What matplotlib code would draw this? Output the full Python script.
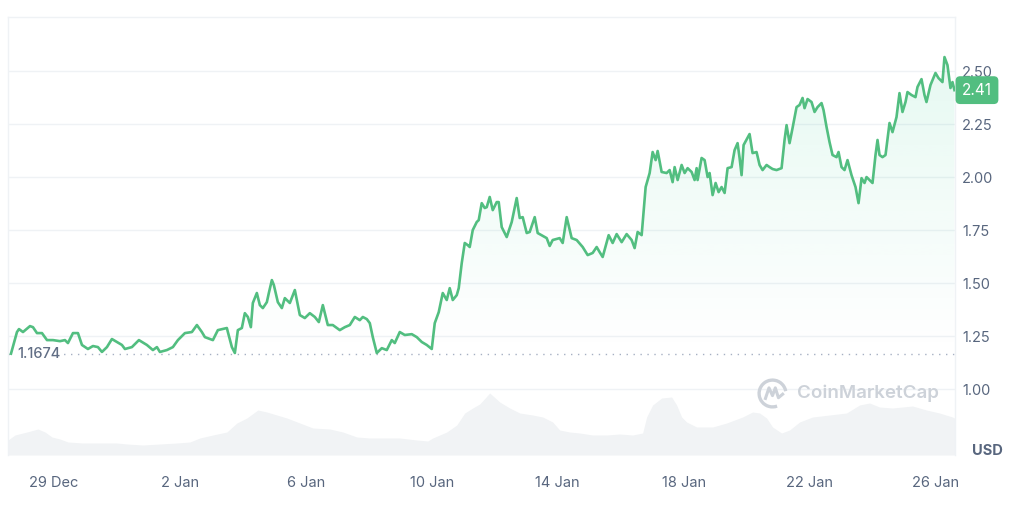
import numpy as np
import matplotlib
matplotlib.use("Agg")
import matplotlib.pyplot as plt
import matplotlib.transforms as mtransforms
from matplotlib.patches import Arc

plt.rcParams["font.family"] = ["Inter", "DejaVu Sans"]

# price: days since 29 Dec, USD
price_day = [
    -1.365, -1.175, -1.111, -0.984, -0.762, -0.667, -0.540, -0.381, -0.222, -0.032,
    0.190, 0.349, 0.444, 0.603, 0.762, 0.889, 1.079, 1.238, 1.397, 1.524,
    1.683, 1.841, 2.000, 2.159, 2.254, 2.476, 2.698, 2.952, 3.143, 3.270,
    3.365, 3.587, 3.778, 3.937, 4.159, 4.381, 4.540, 4.698, 4.794, 5.048,
    5.206, 5.492, 5.524, 5.651, 5.746, 5.841, 5.968, 6.063, 6.159, 6.254,
    6.317, 6.444, 6.540, 6.635, 6.762, 6.825, 6.921, 6.984, 7.111, 7.238,
    7.333, 7.492, 7.651, 7.810, 7.968, 8.127, 8.286, 8.413, 8.540, 8.698,
    8.857, 9.079, 9.238, 9.397, 9.556, 9.714, 9.810, 9.937, 10.032, 10.127,
    10.254, 10.413, 10.571, 10.730, 10.825, 10.984, 11.143, 11.365, 11.524, 11.683,
    11.841, 12.000, 12.095, 12.222, 12.349, 12.476, 12.571, 12.667, 12.794, 12.857,
    12.952, 13.048, 13.143, 13.206, 13.302, 13.429, 13.492, 13.587, 13.683, 13.746,
    13.841, 13.937, 14.063, 14.127, 14.222, 14.381, 14.540, 14.698, 14.794, 14.889,
    15.016, 15.111, 15.270, 15.365, 15.651, 15.746, 15.841, 16.063, 16.159, 16.286,
    16.444, 16.603, 16.794, 16.952, 17.111, 17.238, 17.333, 17.429, 17.619, 17.746,
    17.873, 18.032, 18.190, 18.349, 18.444, 18.540, 18.667, 18.794, 18.921, 19.016,
    19.111, 19.175, 19.302, 19.460, 19.556, 19.651, 19.714, 19.810, 19.937, 20.032,
    20.127, 20.254, 20.349, 20.413, 20.444, 20.571, 20.667, 20.762, 20.825, 20.921,
    21.016, 21.111, 21.206, 21.302, 21.397, 21.524, 21.619, 21.714, 21.778, 21.841,
    21.905, 22.095, 22.190, 22.317, 22.413, 22.508, 22.635, 22.730, 22.825, 22.952,
    23.111, 23.206, 23.270, 23.365, 23.460, 23.587, 23.683, 23.778, 23.841, 23.937,
    24.063, 24.159, 24.254, 24.381, 24.444, 24.540, 24.635, 24.730, 24.857, 24.921,
    25.016, 25.111, 25.206, 25.333, 25.460, 25.556, 25.651, 25.746, 25.810, 25.905,
    26.000, 26.095, 26.159, 26.222, 26.317, 26.413, 26.540, 26.635, 26.762, 26.857,
    26.952, 27.048, 27.111, 27.238, 27.365, 27.429, 27.556, 27.651, 27.714, 27.841,
    28.000, 28.095, 28.222, 28.286, 28.381, 28.476, 28.540, 28.603,
]
price = [
    1.167, 1.269, 1.283, 1.269, 1.297, 1.292, 1.264, 1.264, 1.231, 1.231,
    1.226, 1.231, 1.217, 1.264, 1.264, 1.208, 1.189, 1.203, 1.198, 1.175,
    1.198, 1.236, 1.222, 1.208, 1.189, 1.198, 1.231, 1.208, 1.184, 1.198,
    1.175, 1.184, 1.198, 1.231, 1.264, 1.269, 1.302, 1.269, 1.245, 1.231,
    1.278, 1.288, 1.269, 1.198, 1.170, 1.278, 1.288, 1.358, 1.340, 1.292,
    1.406, 1.453, 1.396, 1.382, 1.410, 1.453, 1.514, 1.491, 1.410, 1.382,
    1.429, 1.406, 1.467, 1.349, 1.335, 1.358, 1.340, 1.316, 1.396, 1.302,
    1.302, 1.278, 1.292, 1.302, 1.340, 1.325, 1.340, 1.330, 1.311, 1.245,
    1.170, 1.193, 1.184, 1.231, 1.217, 1.269, 1.255, 1.259, 1.245, 1.222,
    1.208, 1.189, 1.311, 1.363, 1.453, 1.420, 1.476, 1.420, 1.443, 1.476,
    1.594, 1.689, 1.679, 1.670, 1.750, 1.788, 1.797, 1.877, 1.854, 1.858,
    1.906, 1.844, 1.882, 1.882, 1.764, 1.717, 1.788, 1.901, 1.807, 1.811,
    1.736, 1.741, 1.811, 1.736, 1.712, 1.675, 1.703, 1.712, 1.689, 1.811,
    1.712, 1.703, 1.670, 1.632, 1.642, 1.670, 1.646, 1.623, 1.726, 1.689,
    1.731, 1.693, 1.731, 1.703, 1.665, 1.741, 1.726, 1.953, 2.019, 2.118,
    2.080, 2.123, 2.024, 2.019, 2.033, 1.976, 2.047, 1.986, 2.057, 2.019,
    2.042, 2.024, 1.986, 2.042, 1.986, 2.090, 2.080, 2.000, 2.019, 1.915,
    1.972, 1.929, 1.953, 1.925, 2.042, 2.047, 2.127, 2.160, 2.090, 2.009,
    2.151, 2.203, 2.113, 2.118, 2.057, 2.033, 2.057, 2.047, 2.038, 2.033,
    2.042, 2.175, 2.245, 2.160, 2.231, 2.330, 2.340, 2.373, 2.325, 2.368,
    2.354, 2.307, 2.330, 2.349, 2.316, 2.236, 2.165, 2.104, 2.094, 2.118,
    2.047, 2.033, 2.080, 2.009, 1.953, 1.877, 1.995, 1.972, 2.000, 1.986,
    1.972, 2.104, 2.175, 2.104, 2.094, 2.104, 2.255, 2.212, 2.283, 2.396,
    2.307, 2.354, 2.401, 2.387, 2.377, 2.425, 2.462, 2.387, 2.354, 2.434,
    2.491, 2.467, 2.448, 2.566, 2.528, 2.420, 2.448, 2.410,
]

# volume (relative units)
vol_day = [
    -1.460, -1.238, -0.857, -0.508, -0.286, -0.063, 0.190, 0.444, 0.921, 1.460,
    2.000, 2.317, 2.825, 3.365, 3.905, 4.317, 4.635, 5.048, 5.492, 5.810,
    6.127, 6.476, 6.762, 7.079, 7.397, 7.810, 8.222, 8.762, 9.175, 9.619,
    10.032, 10.444, 10.984, 11.524, 11.873, 12.032, 12.476, 12.794, 13.048, 13.302,
    13.524, 13.841, 14.159, 14.476, 14.794, 15.206, 15.524, 15.841, 16.063, 16.381,
    16.698, 17.111, 17.556, 17.968, 18.381, 18.698, 18.825, 19.016, 19.302, 19.619,
    19.778, 19.937, 20.095, 20.413, 20.921, 21.365, 21.873, 22.190, 22.413, 22.635,
    22.825, 23.111, 23.365, 23.683, 24.095, 24.635, 25.175, 25.587, 25.905, 26.222,
    26.635, 26.952, 27.270, 27.714, 28.127, 28.540, 28.603,
]
volume = [
    30, 40, 46, 52, 46, 36, 32, 26, 24, 24,
    24, 22, 20, 22, 24, 26, 34, 40, 46, 64,
    74, 90, 86, 80, 74, 64, 54, 52, 46, 36,
    34, 34, 34, 30, 28, 34, 46, 60, 84, 94,
    102, 124, 106, 94, 84, 80, 76, 66, 50, 46,
    44, 40, 40, 42, 40, 44, 76, 100, 114, 116,
    100, 76, 66, 56, 56, 64, 76, 86, 84, 74,
    56, 44, 50, 66, 76, 80, 84, 100, 104, 96,
    94, 96, 98, 90, 84, 76, 74,
]

tick_days = [0, 4, 8, 12, 16, 20, 24, 28]
tick_labels = ["29 Dec", "2 Jan", "6 Jan", "10 Jan", "14 Jan", "18 Jan", "22 Jan", "26 Jan"]
price_ticks = [1.00, 1.25, 1.50, 1.75, 2.00, 2.25, 2.50]
open_price = 1.1674
last_price = 2.41

GREEN = "#52be80"
GRID = "#eff2f5"
TEXT = "#58667e"

fig = plt.figure(figsize=(10.24, 5.05), dpi=100)
rect = [8 / 1024, 50 / 505, 947 / 1024, 438 / 505]
xlim = (-1.46, 28.62)
ylim = (0.689, 2.755)

# volume in the background
ax_vol = fig.add_axes(rect)
ax_vol.fill_between(vol_day, volume, 0, color="#f1f3f5", lw=0)
ax_vol.set_xlim(*xlim)
ax_vol.set_ylim(0, 876)
ax_vol.axis("off")

ax = fig.add_axes(rect)
ax.set_facecolor("none")
ax.set_xlim(*xlim)
ax.set_ylim(*ylim)

for v in price_ticks:
    ax.axhline(v, color=GRID, lw=1, zorder=0)

# gradient under the line
poly = ax.fill_between(price_day, price, open_price, color="none", lw=0)
grad = np.zeros((256, 1, 4))
grad[:, 0, :3] = matplotlib.colors.to_rgb("#16c784")
grad[:, 0, 3] = np.linspace(0.0, 0.12, 256)
im = ax.imshow(grad, extent=[xlim[0], xlim[1], open_price, ylim[1]],
               origin="lower", aspect="auto", zorder=1, interpolation="bilinear")
im.set_clip_path(poly.get_paths()[0], transform=ax.transData)
ax.set_xlim(*xlim)
ax.set_ylim(*ylim)

ax.axhline(open_price, color="#a6b0c3", lw=1, ls=(0, (1, 4)), zorder=2)
ax.plot(price_day, price, color=GREEN, lw=1.9, zorder=4, solid_joinstyle="round")

trans = mtransforms.blended_transform_factory(ax.transAxes, ax.transData)
ax.text(0.0095, open_price, f"{open_price:.4f}", transform=trans, ha="left", va="center",
        fontsize=10.5, fontweight="medium", color="#616e85", zorder=3,
        bbox=dict(boxstyle="square,pad=0.2", fc="white", ec="none"))

ax.text(1.0232, last_price, f"{last_price:.2f}", transform=trans, ha="center", va="center",
        fontsize=11, color="white", zorder=6, clip_on=False,
        bbox=dict(boxstyle="round,pad=0.42,rounding_size=0.3", fc=GREEN, ec="none"))

ax.yaxis.tick_right()
ax.set_yticks(price_ticks)
ax.set_yticklabels([f"{v:.2f}" for v in price_ticks])
ax.set_xticks(tick_days)
ax.set_xticklabels(tick_labels)
ax.tick_params(axis="y", length=0, pad=5, labelsize=10.5, labelcolor=TEXT)
ax.tick_params(axis="x", length=0, pad=15, labelsize=10.5, labelcolor=TEXT)

for side in ["top", "left", "right"]:
    ax.spines[side].set_color(GRID)
    ax.spines[side].set_linewidth(1)
ax.spines["bottom"].set_visible(False)

fig.text(987 / 1024, 1 - 451 / 505, "USD", ha="center", va="center",
         fontsize=10.5, fontweight="bold", color=TEXT)

# watermark
fig.text(797 / 1024, 1 - 393 / 505, "CoinMarketCap", ha="left", va="center",
         fontsize=13.5, fontweight="semibold", color="#cdd2d9", zorder=0)
logo = fig.add_axes([757 / 1024, 1 - 409 / 505, 31 / 1024, 31 / 505])
logo.set_xlim(-1.1, 1.1)
logo.set_ylim(-1.1, 1.1)
logo.axis("off")
logo.add_patch(Arc((0, 0), 1.9, 1.9, theta1=10, theta2=290, color="#cdd2d9", lw=2.4))
logo.plot([-0.5, -0.25, 0.0, 0.2, 0.42, 0.72], [-0.35, 0.4, -0.15, 0.4, -0.3, -0.05],
          color="#cdd2d9", lw=2.2, solid_joinstyle="round")

fig.savefig("out.png", dpi=100, facecolor="white")
